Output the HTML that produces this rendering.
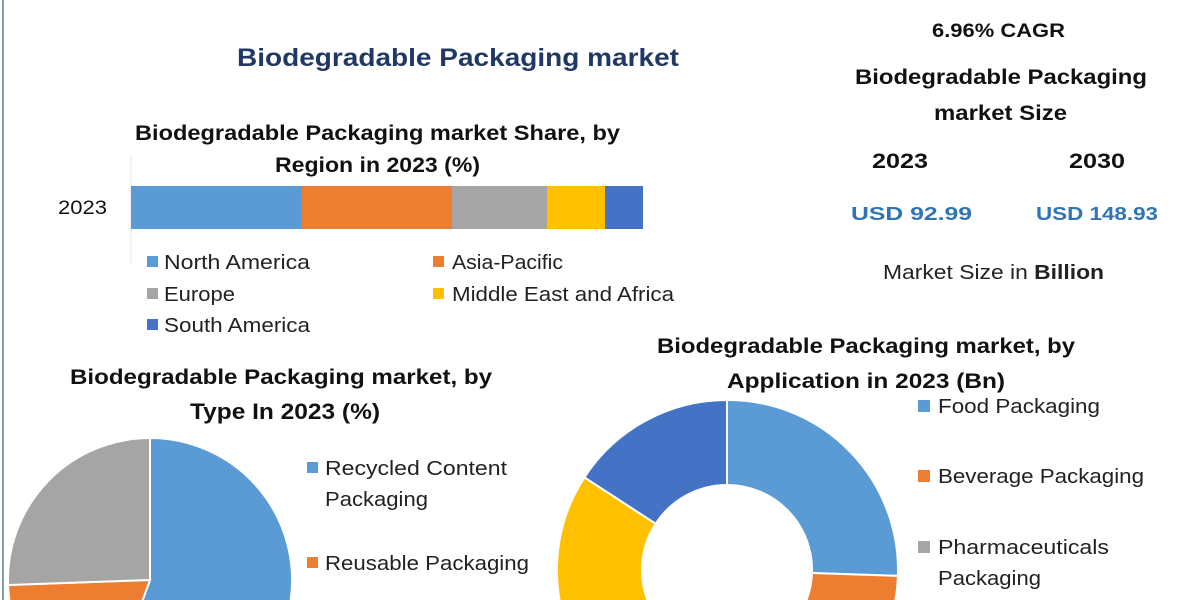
<!DOCTYPE html>
<html><head><meta charset="utf-8"><style>
html,body{margin:0;padding:0;background:#fff;width:1200px;height:600px;overflow:hidden;}
svg{display:block;font-family:"Liberation Sans",sans-serif;overflow:hidden;}
</style></head><body>
<svg width="1200" height="600" viewBox="0 0 1200 600" xmlns="http://www.w3.org/2000/svg">
<defs><clipPath id="c"><rect width="1200" height="600"/></clipPath></defs>
<g clip-path="url(#c)">
<rect width="1200" height="600" fill="#fff"/>
<line x1="3" y1="0" x2="3" y2="600" stroke="#8a9bb0" stroke-width="2"/>

<text x="237" y="66" font-size="25" font-weight="bold" fill="#1f3864" textLength="442" lengthAdjust="spacingAndGlyphs">Biodegradable Packaging market</text>
<text x="135" y="140" font-size="21" font-weight="bold" fill="#111" textLength="485" lengthAdjust="spacingAndGlyphs">Biodegradable Packaging market Share, by</text>
<text x="275" y="172" font-size="21" font-weight="bold" fill="#111" textLength="205" lengthAdjust="spacingAndGlyphs">Region in 2023 (%)</text>

<line x1="131" y1="155" x2="131" y2="265" stroke="#e6e6e6" stroke-width="1"/>
<text x="58" y="214" font-size="19" fill="#111" textLength="49" lengthAdjust="spacingAndGlyphs">2023</text>
<rect x="131" y="186" width="171" height="43" fill="#5b9bd5"/>
<rect x="302" y="186" width="150" height="43" fill="#ed7d31"/>
<rect x="452" y="186" width="95" height="43" fill="#a5a5a5"/>
<rect x="547" y="186" width="58" height="43" fill="#ffc000"/>
<rect x="605" y="186" width="38" height="43" fill="#4472c4"/>

<g font-size="20" fill="#222">
<rect x="147" y="256" width="11" height="11" fill="#5b9bd5"/><text x="164" y="269" textLength="146" lengthAdjust="spacingAndGlyphs">North America</text>
<rect x="433" y="256" width="11" height="11" fill="#ed7d31"/><text x="452" y="269" textLength="111" lengthAdjust="spacingAndGlyphs">Asia-Pacific</text>
<rect x="147" y="288" width="11" height="11" fill="#a5a5a5"/><text x="164" y="301" textLength="71" lengthAdjust="spacingAndGlyphs">Europe</text>
<rect x="433" y="288" width="11" height="11" fill="#ffc000"/><text x="452" y="301" textLength="222" lengthAdjust="spacingAndGlyphs">Middle East and Africa</text>
<rect x="147" y="319" width="11" height="11" fill="#4472c4"/><text x="164" y="332" textLength="146" lengthAdjust="spacingAndGlyphs">South America</text>
</g>

<text x="932" y="37" font-size="19" font-weight="bold" fill="#111" textLength="133" lengthAdjust="spacingAndGlyphs">6.96% CAGR</text>
<text x="855" y="84" font-size="21" font-weight="bold" fill="#111" textLength="292" lengthAdjust="spacingAndGlyphs">Biodegradable Packaging</text>
<text x="934" y="120" font-size="21" font-weight="bold" fill="#111" textLength="133" lengthAdjust="spacingAndGlyphs">market Size</text>
<text x="872" y="168" font-size="21" font-weight="bold" fill="#111" textLength="56" lengthAdjust="spacingAndGlyphs">2023</text>
<text x="1069" y="168" font-size="21" font-weight="bold" fill="#111" textLength="56" lengthAdjust="spacingAndGlyphs">2030</text>
<text x="851" y="220" font-size="18" font-weight="bold" fill="#2e75b6" textLength="121" lengthAdjust="spacingAndGlyphs">USD 92.99</text>
<text x="1036" y="220" font-size="18" font-weight="bold" fill="#2e75b6" textLength="122" lengthAdjust="spacingAndGlyphs">USD 148.93</text>
<text x="883" y="279" font-size="20" fill="#222" textLength="221" lengthAdjust="spacingAndGlyphs">Market Size in <tspan font-weight="bold">Billion</tspan></text>

<text x="70" y="384" font-size="21" font-weight="bold" fill="#111" textLength="422" lengthAdjust="spacingAndGlyphs">Biodegradable Packaging market, by</text>
<text x="190" y="419" font-size="22" font-weight="bold" fill="#111" textLength="190" lengthAdjust="spacingAndGlyphs">Type In 2023 (%)</text>
<g stroke="#fff" stroke-width="2">
<path d="M150,580 L150,438 A142,142 0 1,1 101.4,713.4 Z" fill="#5b9bd5"/>
<path d="M150,580 L101.4,713.4 A142,142 0 0,1 8.1,585 Z" fill="#ed7d31"/>
<path d="M150,580 L8.1,585 A142,142 0 0,1 150,438 Z" fill="#a5a5a5"/>
</g>
<g font-size="20" fill="#222">
<rect x="307" y="462" width="11" height="11" fill="#5b9bd5"/><text x="325" y="475" textLength="182" lengthAdjust="spacingAndGlyphs">Recycled Content</text>
<text x="325" y="506" textLength="103" lengthAdjust="spacingAndGlyphs">Packaging</text>
<rect x="307" y="557" width="11" height="11" fill="#ed7d31"/><text x="325" y="570" textLength="204" lengthAdjust="spacingAndGlyphs">Reusable Packaging</text>
</g>

<text x="657" y="353" font-size="21" font-weight="bold" fill="#111" textLength="418" lengthAdjust="spacingAndGlyphs">Biodegradable Packaging market, by</text>
<text x="727" y="388" font-size="21" font-weight="bold" fill="#111" textLength="278" lengthAdjust="spacingAndGlyphs">Application in 2023 (Bn)</text>
<g stroke="#fff" stroke-width="2">
<path d="M727,400 A170,170 0 0,1 897.9,575.9 L812,573 A85,85 0 0,0 727,485 Z" fill="#5b9bd5"/>
<path d="M897.9,575.9 A170,170 0 0,1 727,740 L727,655 A85,85 0 0,0 812,573 Z" fill="#ed7d31"/>
<path d="M727,740 A170,170 0 0,1 584.4,477.4 L655.7,523.7 A85,85 0 0,0 727,655 Z" fill="#ffc000"/>
<path d="M584.4,477.4 A170,170 0 0,1 727,400 L727,485 A85,85 0 0,0 655.7,523.7 Z" fill="#4472c4"/>
</g>
<g font-size="20" fill="#222">
<rect x="918" y="400" width="12" height="12" fill="#5b9bd5"/><text x="938" y="413" textLength="162" lengthAdjust="spacingAndGlyphs">Food Packaging</text>
<rect x="918" y="470" width="12" height="12" fill="#ed7d31"/><text x="938" y="483" textLength="206" lengthAdjust="spacingAndGlyphs">Beverage Packaging</text>
<rect x="918" y="541" width="12" height="12" fill="#a5a5a5"/><text x="938" y="554" textLength="171" lengthAdjust="spacingAndGlyphs">Pharmaceuticals</text>
<text x="938" y="585" textLength="103" lengthAdjust="spacingAndGlyphs">Packaging</text>
</g>
</g>
</svg>
</body></html>
